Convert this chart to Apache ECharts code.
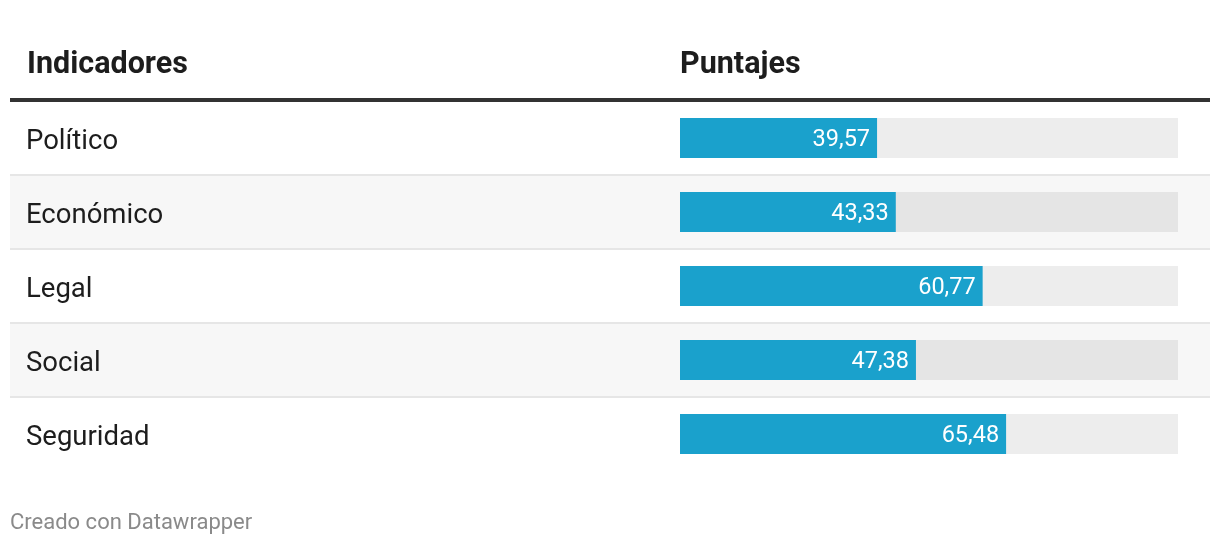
<!DOCTYPE html>
<html><head><meta charset="utf-8">
<script src="https://cdn.jsdelivr.net/npm/echarts@6/dist/echarts.min.js"></script>
<style>html,body{margin:0;padding:0;background:#fff}#c{width:1220px;height:546px}</style>
</head><body><div id="c"></div>
<script>
const categories = ['Político', 'Económico', 'Legal', 'Social', 'Seguridad'];
const scores = [39.57, 43.33, 60.77, 47.38, 65.48];
const headers = ['Indicadores', 'Puntajes'];
const footer = 'Creado con Datawrapper';

const chart = echarts.init(document.getElementById('c'), null, {renderer: 'canvas'});
const FONT = 'Roboto, "Noto Sans", sans-serif';
chart.setOption({
  animation: false,
  backgroundColor: '#fff',
  textStyle: {fontFamily: FONT},
  title: [
    {text: headers[0], left: 27, top: 50, padding: 0, textStyle: {fontFamily: FONT, fontWeight: 'bold', fontSize: 30.5, color: '#1d1d1d'}},
    {text: headers[1], left: 680, top: 50, padding: 0, textStyle: {fontFamily: FONT, fontWeight: 'bold', fontSize: 30.5, color: '#1d1d1d'}},
    {text: footer, left: 10, top: 512, padding: 0, textStyle: {fontFamily: FONT, fontWeight: 'normal', fontSize: 22, color: '#8a8a8a'}}
  ],
  graphic: [
    {type: 'rect', left: 10, top: 98, shape: {width: 1200, height: 4}, style: {fill: '#333'}, z: 100}
  ],
  grid: [
    {left: 10, right: 10, top: 101, height: 370},
    {left: 680, right: 42, top: 101, height: 370}
  ],
  xAxis: [
    {gridIndex: 0, type: 'value', min: 0, max: 100, show: false},
    {gridIndex: 1, type: 'value', min: 0, max: 100, show: false}
  ],
  yAxis: [
    {gridIndex: 0, type: 'category', data: categories, inverse: true,
     axisLine: {show: false}, axisTick: {show: false},
     axisLabel: {inside: true, margin: 16, color: '#1d1d1d', fontFamily: FONT,
       formatter: v => '{a|' + v + '}',
       rich: {a: {fontSize: 27.5, color: '#1d1d1d', fontFamily: FONT, padding: [8, 0, 0, 0]}}},
     splitArea: {show: true, areaStyle: {color: ['#ffffff', '#f7f7f7']}},
     splitLine: {show: true, showMinLine: false, showMaxLine: false, lineStyle: {color: '#e6e6e6', width: 2}}},
    {gridIndex: 1, type: 'category', data: categories, inverse: true, show: false}
  ],
  series: [{
    type: 'bar', xAxisIndex: 1, yAxisIndex: 1, data: scores, barWidth: 40,
    itemStyle: {color: '#1aa1cc'},
    showBackground: true, backgroundStyle: {color: 'rgba(0,0,0,0.07)'},
    label: {show: true, position: 'insideRight', distance: 7, color: '#fff', fontFamily: FONT,
      formatter: p => '{v|' + p.value.toFixed(2).replace('.', ',') + '}',
      rich: {v: {fontSize: 23.5, color: '#fff', fontFamily: FONT, padding: [4, 0, 0, 0]}}}
  }]
});
</script></body></html>
